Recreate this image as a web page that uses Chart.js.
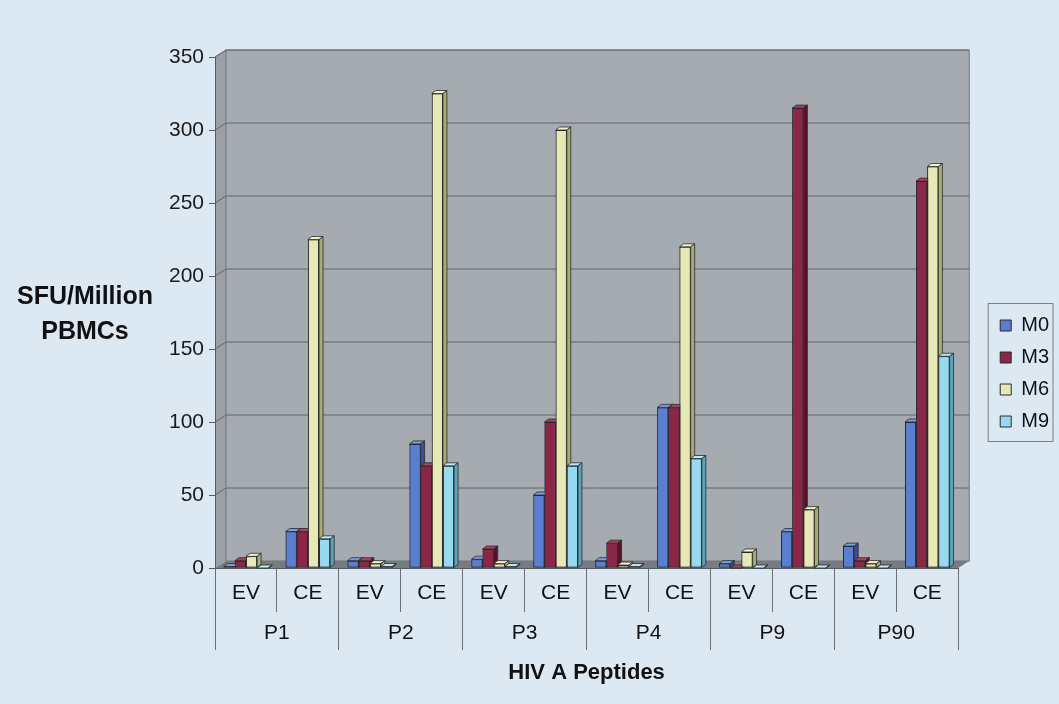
<!DOCTYPE html>
<html>
<head>
<meta charset="utf-8">
<title>HIV A Peptides</title>
<script src="https://cdn.jsdelivr.net/npm/chart.js@4.4.1/dist/chart.umd.min.js"></script>
<style>
  html, body { margin: 0; padding: 0; background: #dde9f2; }
  canvas { display: block; }
</style>
</head>
<body>
<canvas id="chart" width="1059" height="704"></canvas>
<script>
// données
const peptides = ["P1", "P2", "P3", "P4", "P9", "P90"];
const assays = ["EV", "CE"];
const months = ["M0", "M3", "M6", "M9"];
const m0 = [1, 25, 5, 85, 6, 50, 5, 110, 3, 25, 15, 100];
const m3 = [5, 25, 5, 70, 13, 100, 17, 110, 0, 315, 5, 265];
const m6 = [8, 225, 3, 325, 3, 300, 2, 220, 11, 40, 3, 275];
const m9 = [0, 20, 1, 70, 1, 70, 1, 75, 0, 0, 0, 145];
const yTicks = [0, 50, 100, 150, 200, 250, 300, 350];

const faceColors = ["#5a7fd0", "#8c2648", "#e6e8b6", "#98d9ef"];
const sideColors = ["#33519a", "#5a1128", "#a9ab74", "#5aa3bb"];
const topColors = ["#7c9be0", "#a8445f", "#f2f3cf", "#bde9f7"];

const FONT = "Arial, 'Liberation Sans', sans-serif";
const WALL_X = 11, WALL_Y = 7; // profondeur des murs
const BAR_X = 4, BAR_Y = 3; // profondeur des barres

const subLabels = peptides.flatMap(() => assays);

// fond, murs et quadrillage en 3D
const murs = {
  id: "murs",
  beforeDraw(chart) {
    const { ctx, chartArea: a, scales } = chart;
    ctx.save();
    ctx.fillStyle = "#dde9f2";
    ctx.fillRect(0, 0, chart.width, chart.height);

    // mur du fond
    ctx.fillStyle = "#a5abb0";
    ctx.fillRect(a.left + WALL_X, a.top - WALL_Y, a.right - a.left, a.bottom - a.top);
    // mur gauche
    ctx.fillStyle = "#9aa0a6";
    ctx.beginPath();
    ctx.moveTo(a.left, a.top);
    ctx.lineTo(a.left + WALL_X, a.top - WALL_Y);
    ctx.lineTo(a.left + WALL_X, a.bottom - WALL_Y);
    ctx.lineTo(a.left, a.bottom);
    ctx.closePath();
    ctx.fill();
    // sol
    ctx.fillStyle = "#777c82";
    ctx.beginPath();
    ctx.moveTo(a.left, a.bottom);
    ctx.lineTo(a.left + WALL_X, a.bottom - WALL_Y);
    ctx.lineTo(a.right + WALL_X, a.bottom - WALL_Y);
    ctx.lineTo(a.right, a.bottom);
    ctx.closePath();
    ctx.fill();

    // quadrillage
    ctx.strokeStyle = "#5f656b";
    ctx.lineWidth = 1;
    yTicks.slice(1).forEach((v) => {
      const y = scales.y.getPixelForValue(v);
      ctx.beginPath();
      ctx.moveTo(a.left, y);
      ctx.lineTo(a.left + WALL_X, y - WALL_Y);
      ctx.lineTo(a.right + WALL_X, y - WALL_Y);
      ctx.stroke();
    });
    // contours
    ctx.strokeStyle = "#6f757b";
    ctx.strokeRect(a.left + WALL_X, a.top - WALL_Y, a.right - a.left, a.bottom - a.top);
    ctx.beginPath();
    ctx.moveTo(a.left, a.top);
    ctx.lineTo(a.left + WALL_X, a.top - WALL_Y);
    ctx.stroke();
    ctx.restore();
  },
};

// redessine les barres de gauche à droite avec leurs faces dessus / côté
const barres3d = {
  id: "barres3d",
  afterDatasetsDraw(chart) {
    const ctx = chart.ctx;
    const metas = chart.data.datasets.map((d, i) => chart.getDatasetMeta(i));
    ctx.save();
    ctx.lineWidth = 0.8;
    ctx.strokeStyle = "#2a2a2a";
    subLabels.forEach((lab, j) => {
      metas.forEach((meta, i) => {
        const bar = meta.data[j];
        if (!bar) return;
        bar.draw(ctx);
        const { x, y, base, width } = bar.getProps(["x", "y", "base", "width"], true);
        const l = x - width / 2;
        const r = x + width / 2;
        ctx.beginPath();
        ctx.moveTo(l, y);
        ctx.lineTo(l + BAR_X, y - BAR_Y);
        ctx.lineTo(r + BAR_X, y - BAR_Y);
        ctx.lineTo(r, y);
        ctx.closePath();
        ctx.fillStyle = topColors[i];
        ctx.fill();
        ctx.stroke();

        ctx.beginPath();
        ctx.moveTo(r, y);
        ctx.lineTo(r + BAR_X, y - BAR_Y);
        ctx.lineTo(r + BAR_X, base - BAR_Y);
        ctx.lineTo(r, base);
        ctx.closePath();
        ctx.fillStyle = sideColors[i];
        ctx.fill();
        ctx.stroke();
      });
    });
    ctx.restore();
  },
};

// titre de l'axe Y horizontal + cadre de la légende
const decor = {
  id: "decor",
  afterDraw(chart) {
    const { ctx, chartArea: a, legend } = chart;
    ctx.save();
    ctx.fillStyle = "#111";
    ctx.font = "bold 25px " + FONT;
    ctx.textAlign = "center";
    ctx.textBaseline = "middle";
    const cx = a.left - 130;
    const cy = (a.top + a.bottom) / 2;
    ctx.fillText("SFU/Million", cx, cy - 15);
    ctx.fillText("PBMCs", cx, cy + 20);

    const hb = legend.legendHitBoxes;
    if (hb && hb.length) {
      const last = hb[hb.length - 1];
      const w = Math.max(...hb.map((h) => h.width));
      ctx.strokeStyle = "#7a7f85";
      ctx.lineWidth = 1;
      ctx.strokeRect(hb[0].left - 12, hb[0].top - 12, w + 16, last.top + last.height - hb[0].top + 22);
    }
    ctx.restore();
  },
};

const series = [m0, m3, m6, m9];

new Chart(document.getElementById("chart"), {
  type: "bar",
  data: {
    labels: subLabels,
    datasets: series.map((vals, i) => ({
      label: months[i],
      data: vals,
      backgroundColor: faceColors[i],
      borderColor: "#2a2a2a",
      borderWidth: 1,
      borderSkipped: false,
      categoryPercentage: 0.72,
      barPercentage: 1.0,
    })),
  },
  options: {
    responsive: false,
    animation: false,
    layout: { padding: { top: 57, left: 0, right: 0, bottom: 14 } },
    plugins: {
      tooltip: { enabled: false },
      legend: {
        position: "right",
        labels: {
          boxWidth: 11,
          boxHeight: 11,
          padding: 12,
          color: "#111",
          font: { family: FONT, size: 20 },
        },
      },
    },
    scales: {
      y: {
        min: 0,
        max: 350,
        afterBuildTicks: (s) => { s.ticks = yTicks.map((v) => ({ value: v })); },
        afterFit: (s) => { s.width = 215; },
        ticks: { color: "#1a1a1a", padding: 5, font: { family: FONT, size: 21 } },
        grid: { drawOnChartArea: false, drawTicks: true, tickLength: 6, color: "#555b61" },
        border: { display: true, color: "#555b61" },
      },
      gap: {
        type: "linear",
        position: "right",
        display: true,
        grid: { display: false },
        ticks: { display: false },
        border: { display: false },
        afterFit: (s) => { s.width = 30; },
      },
      x: {
        weight: 0,
        afterFit: (s) => { s.height = 44; },
        ticks: { color: "#111", padding: -31, font: { family: FONT, size: 21 } },
        grid: { offset: true, drawOnChartArea: false, tickLength: 44, color: "#6a7076" },
        border: { display: true, color: "#555b61" },
      },
      x2: {
        type: "category",
        labels: peptides,
        position: "bottom",
        weight: 1,
        offset: true,
        afterFit: (s) => { s.height = 78; },
        ticks: { color: "#111", padding: -29, font: { family: FONT, size: 21 } },
        grid: { offset: true, drawOnChartArea: false, tickLength: 38, color: "#6a7076" },
        border: { display: false },
        title: {
          display: true,
          text: "HIV A Peptides",
          color: "#111",
          font: { family: FONT, size: 22, weight: "bold" },
          padding: { top: 0, bottom: 4 },
        },
      },
    },
  },
  plugins: [murs, barres3d, decor],
});
</script>
</body>
</html>
